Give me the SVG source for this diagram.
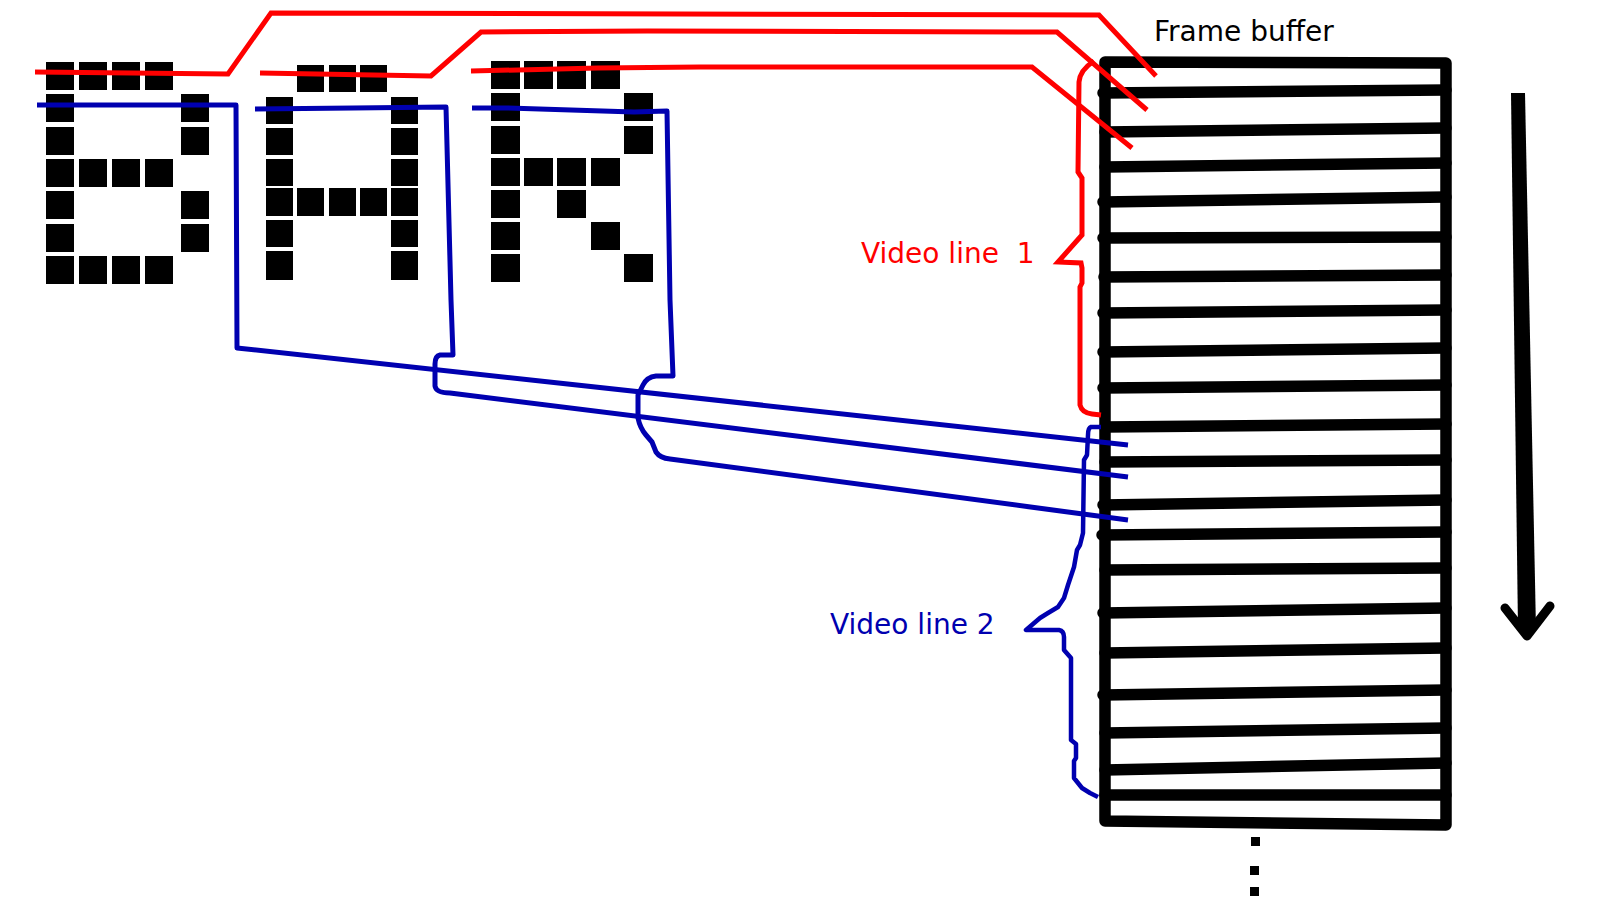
<svg xmlns="http://www.w3.org/2000/svg" width="1600" height="900" viewBox="0 0 1600 900">
<style>
.px{fill:#000;}
.fb{fill:none;stroke:#000;stroke-width:11.5;stroke-linecap:round;stroke-linejoin:round;}
.rl{fill:none;stroke:#ff0000;stroke-width:5;stroke-linejoin:miter;}
.bl{fill:none;stroke:#0000b0;stroke-width:5;stroke-linejoin:round;}
.br{fill:none;stroke:#0000b0;stroke-width:4.5;stroke-linejoin:round;}
.lbl{font-family:"DejaVu Sans",sans-serif;font-size:28px;}
</style>
<rect width="1600" height="900" fill="#fff"/>

<g id="letter-B">
<rect class="px" x="46" y="62" width="28" height="28"/><rect class="px" x="79" y="62" width="28" height="28"/><rect class="px" x="112" y="62" width="28" height="28"/><rect class="px" x="145" y="62" width="28" height="28"/>
<rect class="px" x="46" y="94" width="28" height="28"/><rect class="px" x="181" y="94" width="28" height="28"/>
<rect class="px" x="46" y="127" width="28" height="28"/><rect class="px" x="181" y="127" width="28" height="28"/>
<rect class="px" x="46" y="159" width="28" height="28"/><rect class="px" x="79" y="159" width="28" height="28"/><rect class="px" x="112" y="159" width="28" height="28"/><rect class="px" x="145" y="159" width="28" height="28"/>
<rect class="px" x="46" y="191" width="28" height="28"/><rect class="px" x="181" y="191" width="28" height="28"/>
<rect class="px" x="46" y="224" width="28" height="28"/><rect class="px" x="181" y="224" width="28" height="28"/>
<rect class="px" x="46" y="256" width="28" height="28"/><rect class="px" x="79" y="256" width="28" height="28"/><rect class="px" x="112" y="256" width="28" height="28"/><rect class="px" x="145" y="256" width="28" height="28"/>
</g>

<g id="letter-A">
<rect class="px" x="297" y="65" width="27" height="27"/><rect class="px" x="329" y="65" width="27" height="27"/><rect class="px" x="360" y="65" width="27" height="27"/>
<rect class="px" x="266" y="97" width="27" height="27"/><rect class="px" x="391" y="97" width="27" height="27"/>
<rect class="px" x="266" y="128" width="27" height="27"/><rect class="px" x="391" y="128" width="27" height="27"/>
<rect class="px" x="266" y="159" width="27" height="27"/><rect class="px" x="391" y="159" width="27" height="27"/>
<rect class="px" x="266" y="188" width="27" height="28"/><rect class="px" x="297" y="188" width="27" height="28"/><rect class="px" x="329" y="188" width="27" height="28"/><rect class="px" x="360" y="188" width="27" height="28"/><rect class="px" x="391" y="188" width="27" height="28"/>
<rect class="px" x="266" y="220" width="27" height="27"/><rect class="px" x="391" y="220" width="27" height="27"/>
<rect class="px" x="266" y="251" width="27" height="29"/><rect class="px" x="391" y="251" width="27" height="29"/>
</g>

<g id="letter-R">
<rect class="px" x="491" y="61" width="29" height="28"/><rect class="px" x="524" y="61" width="29" height="28"/><rect class="px" x="557" y="61" width="29" height="28"/><rect class="px" x="591" y="61" width="29" height="28"/>
<rect class="px" x="491" y="93" width="29" height="28"/><rect class="px" x="624" y="93" width="29" height="28"/>
<rect class="px" x="491" y="126" width="29" height="28"/><rect class="px" x="624" y="126" width="29" height="28"/>
<rect class="px" x="491" y="158" width="29" height="28"/><rect class="px" x="524" y="158" width="29" height="28"/><rect class="px" x="557" y="158" width="29" height="28"/><rect class="px" x="591" y="158" width="29" height="28"/>
<rect class="px" x="491" y="190" width="29" height="28"/><rect class="px" x="557" y="190" width="29" height="28"/>
<rect class="px" x="491" y="222" width="29" height="28"/><rect class="px" x="591" y="222" width="29" height="28"/>
<rect class="px" x="491" y="254" width="29" height="28"/><rect class="px" x="624" y="254" width="29" height="28"/>
</g>

<g id="frame-buffer">
<path class="fb" d="M1105,62 L1446,63 L1446,825 L1105,821 Z"/>
<path class="fb" d="M1103,93 L1446,90 M1105,132 L1446,128 M1105,167 L1446,163 M1103,202 L1446,197 M1103,238 L1446,237 M1104,277 L1446,275 M1103,313 L1446,310 M1103,352 L1446,348 M1103,388 L1446,385 M1105,427 L1446,424 M1105,462 L1446,460 M1103,505 L1446,500 M1102,535 L1446,532 M1105,570 L1446,568 M1103,613 L1446,608 M1105,653 L1446,648 M1103,695 L1446,690 M1105,733 L1446,728 M1105,770 L1446,763 M1105,795 L1446,795"/>
<text class="lbl" x="1154" y="41" fill="#000">Frame buffer</text>
<rect class="px" x="1251" y="837" width="9" height="9"/>
<rect class="px" x="1250" y="866" width="9" height="9"/>
<rect class="px" x="1250" y="887" width="9" height="9"/>
</g>

<g id="scan-arrow">
<path d="M1511,93 L1525,93 L1536,630 L1518,630 Z" fill="#000"/>
<path d="M1505,608 L1527,636 L1550,606" fill="none" stroke="#000" stroke-width="9" stroke-linecap="round" stroke-linejoin="round"/>
</g>

<g id="connectors">
<path class="rl" d="M35,72 L228,74 L271,13 L1099,15 L1156,76"/>
<path class="rl" d="M260,73 L431,76 L481,32 L647,31 L1057,32 L1147,110"/>
<path class="rl" d="M471,71 L598,68 L700,67 L1032,67 L1132,148"/>
<path class="bl" d="M37,105 L236,105 L237,348 L1128,445"/>
<path class="bl" d="M255,109 L353,108 L446,107 L451,300 L453,355 L440,355 Q435,356 435,364 L435,386 Q436,393 450,393 L1128,477"/>
<path class="bl" d="M472,108 L507,108 L571,110 L634,112 L667,111 L670,300 L673,376 L656,376 Q647,377 643,385 L638,395 L638,418 Q640,428 646,435 L652,442 L656,452 Q660,458 670,459 L1128,520"/>
</g>

<g id="video-line-1">
<path class="rl" d="M1094,61 Q1080,70 1079,82 L1078,172 L1082,178 L1082,235 L1058,262 L1081,263 L1082,268 L1082,283 L1080,287 L1080,405 Q1082,413 1092,414 L1101,415"/>
<text class="lbl" x="861" y="263" fill="#ff0000" xml:space="preserve">Video line  1</text>
</g>

<g id="video-line-2">
<path class="br" d="M1101,427 L1091,427 Q1088,428 1088,435 L1087,455 L1084,460 L1083,533 L1080,545 L1077,550 L1074,567 L1068,585 L1064,598 L1058,607 L1048,613 L1040,618 L1026,630 L1059,630 Q1064,631 1064,637 L1064,650 L1071,658 L1071,740 L1076,744 L1076,758 L1074,761 L1074,778 L1082,788 L1090,793 L1098,797"/>
<text class="lbl" x="830" y="634" fill="#0000b0">Video line 2</text>
</g>
</svg>
